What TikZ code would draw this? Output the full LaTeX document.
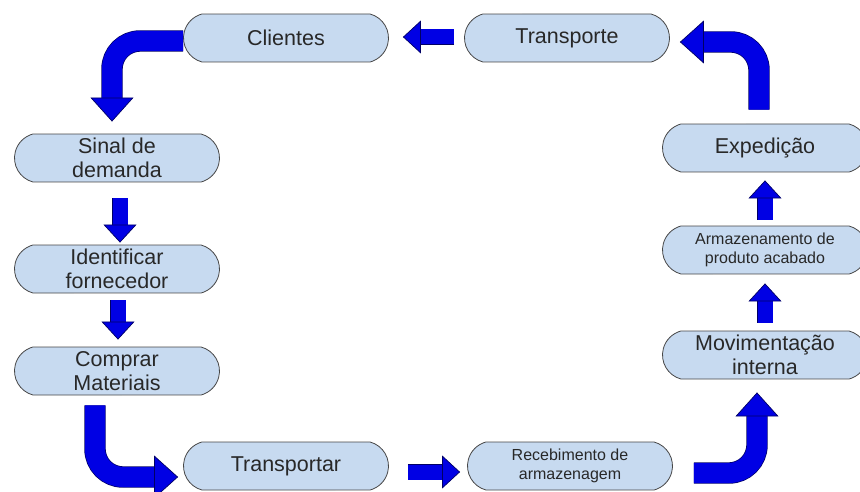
\documentclass[tikz,border=0pt]{standalone}
\usepackage{fontspec}
\setmainfont{Liberation Sans}
\usetikzlibrary{arrows.meta,shapes.misc}

\definecolor{boxblue}{RGB}{199,218,240}
\definecolor{boxline}{RGB}{70,70,70}
\definecolor{txtgray}{RGB}{40,40,40}
\definecolor{arrowblue}{RGB}{0,0,228}
\definecolor{arrownavy}{RGB}{0,0,100}

\newcommand{\bigtxt}{\fontsize{21.5}{24.5}\selectfont}
\newcommand{\smalltxt}{\fontsize{16}{19}\selectfont}

\tikzset{
  proc/.style={rounded rectangle, rounded rectangle arc length=150, draw=boxline, thick,
    fill=boxblue, text=txtgray, minimum width=205pt, minimum height=48pt,
    inner sep=0pt, align=center, font=\bigtxt},
  small/.style={font=\smalltxt},
  bigarrow/.style={draw=arrownavy, line width=0.7pt, double=arrowblue, double distance=20pt,
    rounded corners=28pt,
    -{Triangle[width=43pt, length=24pt, line width=0.7pt, fill=arrowblue, color=arrownavy]}},
  medarrow/.style={draw=arrownavy, line width=0.7pt, double=arrowblue, double distance=15pt,
    -{Triangle[width=33pt, length=18pt, line width=0.7pt, fill=arrowblue, color=arrownavy]}}
}

\begin{document}
\begin{tikzpicture}[x=1pt, y=1pt]
  \useasboundingbox (0,0) rectangle (860,491);
  % top row
  \node[proc] (cl) at (286,453) {Clientes};
  \node[proc] (tr) [right of=cl, node distance=281pt] {Transporte};
  % left column
  \node[proc] (si) at (117,333) {Sinal de\\demanda};
  \node[proc] (id) [below of=si, node distance=111pt] {Identificar\\fornecedor};
  \node[proc] (co) [below of=id, node distance=102pt] {Comprar\\Materiais};
  % bottom row
  \node[proc] (ta) at (286,25) {Transportar};
  \node[proc, small] (re) [right of=ta, node distance=284pt] {Recebimento de\\armazenagem};
  % right column
  \node[proc] (mo) at (765,136) {Movimenta\c{c}\~ao\\interna};
  \node[proc, small] (ar) [above of=mo, node distance=105pt] {Armazenamento de\\produto acabado};
  \node[proc] (ex) [above of=ar, node distance=102pt] {Expedi\c{c}\~ao};

  \draw[medarrow, shorten <=10pt, shorten >=14pt] ([yshift=1pt]tr.west) -- ([yshift=1pt]cl.east);
  \draw[bigarrow, shorten >=12pt] ([yshift=-3pt]cl.west) -| ([xshift=-5pt]si.north);
  \draw[medarrow, shorten <=16pt, shorten >=2pt] ([xshift=3pt]si.south) -- ([xshift=3pt]id.north);
  \draw[medarrow, shorten <=7pt, shorten >=7pt] ([xshift=1pt]id.south) -- ([xshift=1pt]co.north);
  \draw[bigarrow, shorten <=10pt, shorten >=5pt] ([xshift=-22pt]co.south) |- ([yshift=-11pt]ta.west);
  \draw[medarrow, shorten <=19pt, shorten >=7pt] ([yshift=-6pt]ta.east) -- ([yshift=-6pt]re.west);
  \draw[bigarrow, shorten <=21pt, shorten >=13pt] ([yshift=-7pt]re.east) -| ([xshift=-8pt]mo.south);
  \draw[medarrow, shorten <=8pt, shorten >=9pt] (mo.north) -- (ar.south);
  \draw[medarrow, shorten <=6pt, shorten >=8pt] (ar.north) -- (ex.south);
  \draw[bigarrow, shorten <=14pt, shorten >=10pt] ([xshift=-6pt]ex.north) |- ([yshift=-4pt]tr.east);
\end{tikzpicture}
\end{document}
